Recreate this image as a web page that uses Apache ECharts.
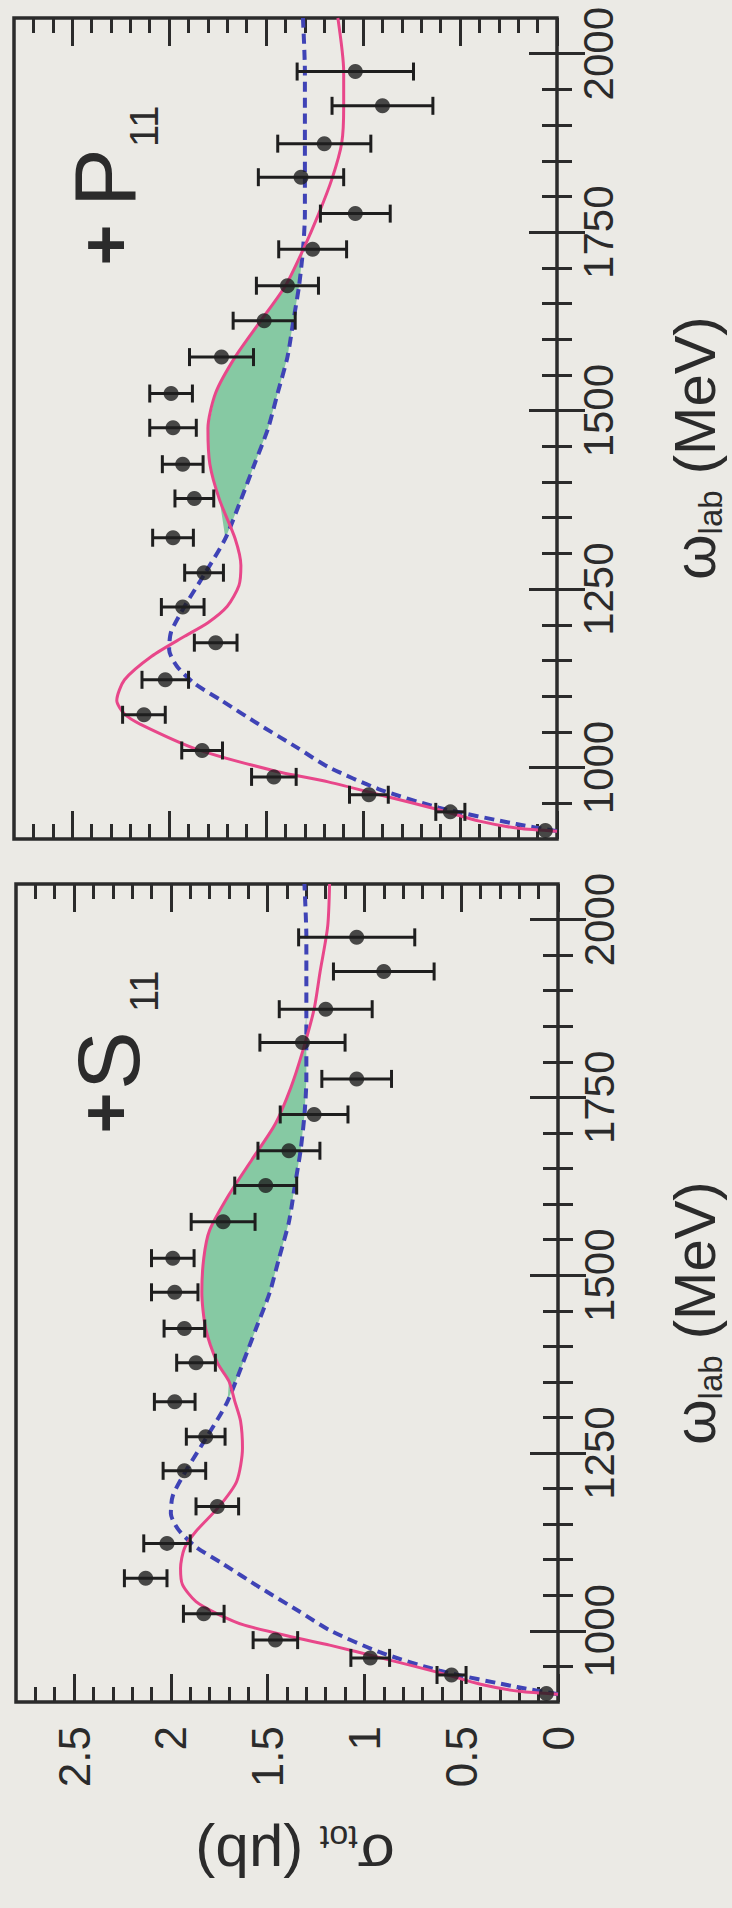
<!DOCTYPE html>
<html>
<head>
<meta charset="utf-8">
<script src="https://cdn.jsdelivr.net/npm/echarts@6/dist/echarts.min.js"></script>
<style>
  html, body { margin: 0; padding: 0; background: #ebeae5; }
  #chart { width: 732px; height: 1908px; }
</style>
</head>
<body>
<div id="chart"></div>
<script>
// 实验数据：ω_lab (MeV)、σ_tot (μb)、误差
var omegaData = [912, 938, 962, 987, 1024, 1074, 1123, 1175, 1225, 1273, 1322, 1377,
  1425, 1476, 1524, 1575, 1626, 1675, 1726, 1776, 1827, 1874, 1927, 1975];
var sigmaData = [0.06, 0.55, 0.97, 1.46, 1.83, 2.13, 2.02, 1.76, 1.93, 1.82, 1.98, 1.87,
  1.93, 1.98, 1.99, 1.73, 1.51, 1.39, 1.26, 1.04, 1.32, 1.20, 0.90, 1.04];
var sigmaErr = [0, 0.075, 0.10, 0.115, 0.105, 0.11, 0.12, 0.11, 0.11, 0.10, 0.105, 0.10,
  0.105, 0.12, 0.11, 0.165, 0.16, 0.16, 0.175, 0.18, 0.22, 0.24, 0.26, 0.30];

// 蓝色虚线（两个面板相同）
var bgOmega = [911, 921, 944, 970, 1001, 1028, 1061, 1094, 1118, 1142, 1165, 1190, 1226,
  1270, 1321, 1375, 1425, 1475, 1525, 1575, 1625, 1675, 1725, 1775, 1825, 1875, 1925, 1975, 2050];
var bgSigma = [0, 0.21, 0.61, 0.92, 1.18, 1.34, 1.54, 1.73, 1.87, 1.96, 2.00, 1.99, 1.92,
  1.82, 1.71, 1.63, 1.56, 1.49, 1.44, 1.39, 1.36, 1.33, 1.31, 1.30, 1.30, 1.30, 1.30, 1.30, 1.31];

// + S11 粉色实线
var s11Omega = [911, 915, 925, 941, 961, 980, 990, 1008, 1024, 1041, 1065, 1088, 1116, 1140,
  1175, 1210, 1257, 1295, 1323, 1351, 1377, 1425, 1476, 1524, 1563, 1613, 1663, 1713, 1764,
  1814, 1874, 1925, 1990, 2050];
var s11Sigma = [0, 0.20, 0.40, 0.61, 0.90, 1.18, 1.35, 1.62, 1.76, 1.87, 1.94, 1.95, 1.93, 1.87,
  1.75, 1.66, 1.63, 1.64, 1.67, 1.70, 1.76, 1.82, 1.84, 1.83, 1.80, 1.70, 1.58, 1.46, 1.38,
  1.32, 1.26, 1.23, 1.19, 1.18];

// + P11 粉色实线
var p11Omega = [911, 915, 925, 941, 961, 980, 995, 1026, 1061, 1075, 1094, 1123, 1156, 1184,
  1203, 1226, 1255, 1283, 1321, 1375, 1425, 1475, 1525, 1575, 1625, 1675, 1725, 1775, 1825,
  1875, 1925, 1975, 2050];
var p11Sigma = [0, 0.20, 0.40, 0.61, 0.90, 1.18, 1.45, 1.86, 2.15, 2.23, 2.27, 2.23, 2.09, 1.92,
  1.80, 1.70, 1.64, 1.63, 1.66, 1.74, 1.79, 1.80, 1.76, 1.66, 1.53, 1.40, 1.31, 1.23, 1.16,
  1.11, 1.10, 1.10, 1.13];

// 刻度
var sigmaTicks = [0, 0.5, 1, 1.5, 2, 2.5];
var omegaTicks = [1000, 1250, 1500, 1750, 2000];
// 绿色填充区间
var fillS11 = [1300, 1900];
var fillP11 = [1300, 1800];

var FONT = "'Liberation Sans', Arial, Helvetica, sans-serif";
var INK = "#2b2b2b";
var PINK = "#e8478a";
var BLUE = "#3f43b6";
var GREEN = "#86c9a3";
var DOT = "#1e1e1e";

function minorValues(min, max, step) {
  var arr = [];
  for (var v = min + step; v < max - 1e-6; v += step) {
    arr.push(Math.round(v * 1000) / 1000);
  }
  return arr;
}
var sigmaMinor = minorValues(0, 2.8, 0.1);
var omegaMinor = minorValues(900, 2050, 50);

function interp(xs, ys, x) {
  for (var i = 1; i < xs.length; i++) {
    if (x <= xs[i]) {
      var t = (x - xs[i - 1]) / (xs[i] - xs[i - 1]);
      return ys[i - 1] + t * (ys[i] - ys[i - 1]);
    }
  }
  return ys[ys.length - 1];
}

var panels = [
  { grid: { left: 14, top: 18, width: 543, height: 821 }, omega: p11Omega, sigma: p11Sigma,
    fill: fillP11, sigmaLabels: false },
  { grid: { left: 16, top: 884, width: 542, height: 818 }, omega: s11Omega, sigma: s11Sigma,
    fill: fillS11, sigmaLabels: true }
];

var grids = [], xAxes = [], yAxes = [], series = [];

function tickStyle(values, len) {
  return { show: true, inside: true, length: len, customValues: values,
    lineStyle: { color: INK, width: 3 } };
}

panels.forEach(function (p, gi) {
  grids.push({
    left: p.grid.left, top: p.grid.top, width: p.grid.width, height: p.grid.height,
    show: true, borderColor: INK, borderWidth: 3.5, backgroundColor: "transparent",
    containLabel: false, outerBoundsMode: "none"
  });
  var xBase = xAxes.length, yBase = yAxes.length;
  // σ 轴：下、上，各有长短刻度
  ["bottom", "top"].forEach(function (pos) {
    [[sigmaTicks, 28], [sigmaMinor, 15]].forEach(function (t, k) {
      var showLab = p.sigmaLabels && pos === "bottom" && k === 0;
      xAxes.push({
        type: "value", gridIndex: gi, position: pos, min: 0, max: 2.8, inverse: true,
        axisLine: { show: false }, splitLine: { show: false },
        axisTick: tickStyle(t[0], t[1]),
        axisLabel: showLab ? {
          show: true, rotate: 90, margin: 24, customValues: sigmaTicks,
          fontSize: 44, fontFamily: FONT, color: INK,
          formatter: function (v) { return String(v); }
        } : { show: false }
      });
    });
  });
  // ω 轴：右、左
  ["right", "left"].forEach(function (pos) {
    [[omegaTicks, 28], [omegaMinor, 15]].forEach(function (t, k) {
      var showLab = pos === "right" && k === 0;
      yAxes.push({
        type: "value", gridIndex: gi, position: pos, min: 900, max: 2050,
        axisLine: { show: false }, splitLine: { show: false },
        axisTick: tickStyle(t[0], t[1]),
        axisLabel: showLab ? {
          show: true, rotate: 90, margin: 20, customValues: omegaTicks,
          fontSize: 42, fontFamily: FONT, color: INK,
          formatter: function (v) { return String(v); }
        } : { show: false }
      });
    });
  });

  var axisRef = { xAxisIndex: xBase, yAxisIndex: yBase };

  // 绿色区域：粉线高于蓝线的部分
  series.push(Object.assign({
    type: "custom", clip: true, z: 1, silent: true,
    data: [[1, p.fill[0]]],
    encode: { x: 0, y: 1 },
    renderItem: function (params, api) {
      var ws = [p.fill[0], p.fill[1]];
      p.omega.concat(bgOmega).forEach(function (w) {
        if (w > p.fill[0] && w < p.fill[1]) ws.push(w);
      });
      ws.sort(function (a, b) { return a - b; });
      var top = [], bottom = [];
      ws.forEach(function (w) {
        var s = interp(p.omega, p.sigma, w), b = interp(bgOmega, bgSigma, w);
        top.push(api.coord([Math.max(s, b), w]));
        bottom.push(api.coord([b, w]));
      });
      return { type: "polygon", shape: { points: top.concat(bottom.reverse()) },
        style: { fill: GREEN } };
    }
  }, axisRef));

  series.push(Object.assign({
    type: "line", z: 2, showSymbol: false, smooth: 0.25, silent: true,
    data: bgOmega.map(function (w, i) { return [bgSigma[i], w]; }),
    lineStyle: { color: BLUE, width: 4, type: [10, 6] }
  }, axisRef));

  series.push(Object.assign({
    type: "line", z: 3, showSymbol: false, smooth: 0.25, silent: true,
    data: p.omega.map(function (w, i) { return [p.sigma[i], w]; }),
    lineStyle: { color: PINK, width: 3 }
  }, axisRef));

  // 误差棒
  series.push(Object.assign({
    type: "custom", z: 4, silent: true, clip: false,
    data: omegaData.map(function (w, i) { return [sigmaData[i], w, sigmaErr[i]]; }),
    encode: { x: 0, y: 1 },
    renderItem: function (params, api) {
      var s = api.value(0), w = api.value(1), e = api.value(2);
      if (!e) return null;
      var a = api.coord([s - e, w]), b = api.coord([s + e, w]);
      var cap = 9;
      function st() { return { stroke: DOT, lineWidth: 3, fill: null }; }
      return { type: "group", children: [
        { type: "line", shape: { x1: a[0], y1: a[1], x2: b[0], y2: b[1] }, style: st() },
        { type: "line", shape: { x1: a[0], y1: a[1] - cap, x2: a[0], y2: a[1] + cap }, style: st() },
        { type: "line", shape: { x1: b[0], y1: b[1] - cap, x2: b[0], y2: b[1] + cap }, style: st() }
      ] };
    }
  }, axisRef));

  series.push(Object.assign({
    type: "scatter", z: 5, silent: true, symbol: "circle", symbolSize: 15,
    data: omegaData.map(function (w, i) { return [sigmaData[i], w]; }),
    itemStyle: { color: DOT }
  }, axisRef));
});

// 文字宽度，用来拼接下标
var measureCtx = document.createElement("canvas").getContext("2d");
function textWidth(str, size) {
  measureCtx.font = size + "px " + FONT;
  return measureCtx.measureText(str).width;
}

function txt(x, y, rot, text, size, align, weight) {
  return {
    type: "text", x: x, y: y, rotation: rot, silent: true,
    style: {
      text: text, fontSize: size, fontFamily: FONT, fontWeight: weight || "normal", fill: INK,
      align: align, textAlign: align, verticalAlign: "middle", textVerticalAlign: "middle"
    }
  };
}

// 带下标的标题：parts = [[文字, 字号, 下沉]]，沿阅读方向居中
function subTitle(cx, cy, dir, parts) {
  var widths = parts.map(function (p) { return textWidth(p[0], p[1]); });
  var total = widths.reduce(function (a, b) { return a + b; }, 0);
  var off = -total / 2, out = [];
  parts.forEach(function (p, i) {
    var el;
    if (dir === "up") {
      el = txt(cx + p[2], cy - off, Math.PI / 2, p[0], p[1], "left");
    } else {
      el = txt(cx - off, cy - p[2], Math.PI, p[0], p[1], "left");
    }
    out.push(el);
    off += widths[i];
  });
  return out;
}

var R = Math.PI / 2;
var omegaTitle = [["ω", 58, 0], ["lab", 33, 16], [" (MeV)", 58, 0]];
var sigmaTitle = [["σ", 60, 0], ["tot", 34, 17], [" (μb)", 60, 0]];

var graphics = [
  // + P11
  txt(106, 245, R, "+", 70, "center", "bold"),
  txt(104, 207, R, "P", 88, "left"),
  txt(144, 147, R, "11", 40, "left"),
  // + S11
  txt(106, 1113, R, "+", 70, "center", "bold"),
  txt(108, 1090, R, "S", 88, "left"),
  txt(144, 1012, R, "11", 40, "left")
].concat(
  subTitle(694, 448, "up", omegaTitle),
  subTitle(694, 1313, "up", omegaTitle),
  subTitle(295, 1855, "down", sigmaTitle)
);

var chart = echarts.init(document.getElementById("chart"), null, { renderer: "svg" });
chart.setOption({
  backgroundColor: "#ebeae5",
  animation: false,
  grid: grids,
  xAxis: xAxes,
  yAxis: yAxes,
  series: series,
  graphic: graphics
});
</script>
</body>
</html>
